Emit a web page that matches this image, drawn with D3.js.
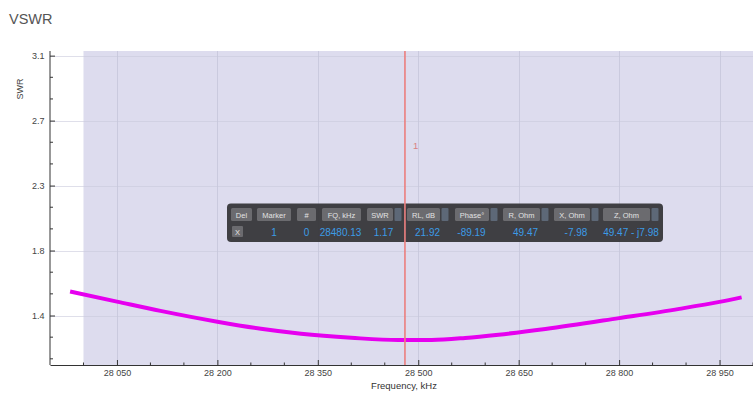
<!DOCTYPE html>
<html>
<head>
<meta charset="utf-8">
<script src="https://cdn.jsdelivr.net/npm/d3@7/dist/d3.min.js"></script>
<style>
  html, body { margin: 0; padding: 0; background: #ffffff; }
  svg { display: block; font-family: "Liberation Sans", Arial, Helvetica, sans-serif; }
</style>
</head>
<body>
<svg id="chart" width="753" height="394"></svg>
<script>
// ---------- data ----------
const title = "VSWR";
const xLabel = "Frequency, kHz";
const yLabel = "SWR";
const freqKHz = [27980, 28050, 28115, 28200, 28265, 28325, 28400, 28470, 28520, 28570, 28620, 28690, 28800, 28890, 28950, 28983];
const swrValues = [1.575, 1.510, 1.450, 1.380, 1.334, 1.302, 1.276, 1.261, 1.262, 1.275, 1.296, 1.333, 1.403, 1.463, 1.508, 1.537];
const xTickValues = [28050, 28200, 28350, 28500, 28650, 28800, 28950];
const yTickValues = [1.42, 1.84, 2.26, 2.68, 3.10];
const bandRange = [28000, 29000];
const markerFreq = 28480.13;
const markerLabel = "1";
const tableHeaders = ["Del", "Marker", "#", "FQ, kHz", "SWR", "RL, dB", "Phase°", "R, Ohm", "X, Ohm", "Z, Ohm"];
const tableValues = ["X", "1", "0", "28480.13", "1.17", "21.92", "-89.19", "49.47", "-7.98", "49.47 - j7.98"];

// ---------- layout ----------
const plot = { left: 50, right: 753, top: 51, bottom: 365 };
const svg = d3.select("#chart");

const x = d3.scaleLinear().domain([27950, 29000]).range([plot.left, plot.right]);
const y = d3.scaleLinear().domain([1.1, 3.13]).range([plot.bottom, plot.top]);

const spaceFmt = d3.formatLocale({ decimal: ".", thousands: " ", grouping: [3], currency: ["", ""] }).format(",d");

// title
svg.append("text").attr("x", 9).attr("y", 23.5)
  .attr("font-size", 14.5).attr("fill", "#555").text(title);

// shaded band
svg.append("rect")
  .attr("x", x(bandRange[0])).attr("y", plot.top)
  .attr("width", x(bandRange[1]) - x(bandRange[0]))
  .attr("height", plot.bottom - plot.top)
  .attr("fill", "#dddcee");

// grid
const grid = svg.append("g");
grid.selectAll("line.hy").data(yTickValues).join("line")
  .attr("x1", plot.left).attr("x2", plot.right)
  .attr("y1", d => Math.round(y(d)) + 0.5).attr("y2", d => Math.round(y(d)) + 0.5)
  .attr("stroke", "#c9c9dc").attr("stroke-opacity", 0.6);
grid.selectAll("line.vx").data(xTickValues).join("line")
  .attr("y1", plot.top).attr("y2", plot.bottom)
  .attr("x1", d => Math.round(x(d)) + 0.5).attr("x2", d => Math.round(x(d)) + 0.5)
  .attr("stroke", "#c6c6da").attr("stroke-opacity", 0.8);

// curve
const line = d3.line().x((d, i) => x(freqKHz[i])).y(d => y(d)).curve(d3.curveMonotoneX);
svg.append("path").datum(swrValues)
  .attr("d", line).attr("fill", "none")
  .attr("stroke", "#e600ef").attr("stroke-width", 4).attr("stroke-linecap", "butt");

// axes
const xMinor = d3.range(28000, 29001, 50).filter(v => !xTickValues.includes(v));
const yMinor = d3.range(0, 20).map(i => +(1.14 + i * 0.14).toFixed(2)).filter(v => v < 3.13 && !yTickValues.some(t => Math.abs(t - v) < 1e-6));

const xAxis = d3.axisBottom(x).tickValues(xTickValues).tickSizeInner(-5).tickSizeOuter(0).tickPadding(5).tickFormat(spaceFmt);
const gx = svg.append("g").attr("transform", `translate(0,${plot.bottom})`).call(xAxis);
gx.selectAll("text").attr("font-size", 9).attr("fill", "#444").attr("font-family", "Liberation Sans, Arial, sans-serif");
gx.selectAll("line, path").attr("stroke", "#333");
gx.selectAll("line.minor").data(xMinor).join("line").attr("class", "minor")
  .attr("x1", d => x(d)).attr("x2", d => x(d)).attr("y1", 0).attr("y2", -2.5).attr("stroke", "#333");

const yAxis = d3.axisLeft(y).tickValues(yTickValues).tickSizeInner(-5).tickSizeOuter(0).tickPadding(5.5).tickFormat(d3.format(".1f"));
const gy = svg.append("g").attr("transform", `translate(${plot.left},0)`).call(yAxis);
gy.selectAll("text").attr("font-size", 9).attr("fill", "#444").attr("font-family", "Liberation Sans, Arial, sans-serif");
gy.selectAll("line, path").attr("stroke", "#333");
gy.selectAll("line.minor").data(yMinor).join("line").attr("class", "minor")
  .attr("y1", d => y(d)).attr("y2", d => y(d)).attr("x1", 0).attr("x2", 3).attr("stroke", "#333");
gy.select("path.domain").attr("d", `M0,${plot.top}V${plot.bottom}`);

// axis labels
svg.append("text").attr("x", 404).attr("y", 388.5).attr("text-anchor", "middle")
  .attr("font-size", 9.5).attr("fill", "#333").text(xLabel);
svg.append("text").attr("transform", `translate(23,89) rotate(-90)`).attr("text-anchor", "middle")
  .attr("font-size", 9).attr("fill", "#444").text(yLabel);

// marker table panel
const colBoxes = [[231, 252], [257, 291], [297, 316], [322, 361], [367, 393], [407, 440], [455, 489], [503, 540], [554, 590], [603, 650]];
const hasDrop = [false, false, false, false, true, true, true, true, true, true];
const valueCenters = [237.5, 274, 306.5, 340.5, 383.5, 427.5, 471.5, 525.5, 576, 631];
const panel = svg.append("g");
panel.append("rect").attr("x", 227).attr("y", 203.5).attr("width", 436).attr("height", 38.5)
  .attr("rx", 4).attr("fill", "#38383b").attr("fill-opacity", 0.96);
tableHeaders.forEach((h, i) => {
  const [a, b] = colBoxes[i];
  panel.append("rect").attr("x", a).attr("y", 208).attr("width", b - a).attr("height", 13)
    .attr("rx", 1.5).attr("fill", "#6b6b6f");
  panel.append("text").attr("x", (a + b) / 2).attr("y", 217.5).attr("text-anchor", "middle")
    .attr("font-size", 7.5).attr("fill", "#e2e2e2").text(h);
  if (hasDrop[i]) {
    panel.append("rect").attr("x", b + 1.5).attr("y", 208).attr("width", 7).attr("height", 13)
      .attr("rx", 1).attr("fill", "#5d6877");
  }
});
tableValues.forEach((v, i) => {
  if (i === 0) {
    panel.append("rect").attr("x", 232).attr("y", 226).attr("width", 11).attr("height", 11)
      .attr("rx", 1).attr("fill", "#6b6b6f");
    panel.append("text").attr("x", valueCenters[i]).attr("y", 234.5).attr("text-anchor", "middle")
      .attr("font-size", 7.5).attr("fill", "#e2e2e2").text(v);
  } else {
    panel.append("text").attr("x", valueCenters[i]).attr("y", 235.5).attr("text-anchor", "middle")
      .attr("font-size", 10).attr("fill", "#3c9be6").text(v);
  }
});

// marker line
const mx = x(markerFreq);
svg.append("rect")
  .attr("x", mx - 0.9).attr("y", plot.top)
  .attr("width", 1.8).attr("height", plot.bottom - plot.top)
  .attr("fill", "#ea7f7f").attr("fill-opacity", 0.9);
svg.append("text").attr("x", mx + 8).attr("y", 149)
  .attr("font-size", 9.5).attr("fill", "#d98282").text(markerLabel);
</script>
</body>
</html>
